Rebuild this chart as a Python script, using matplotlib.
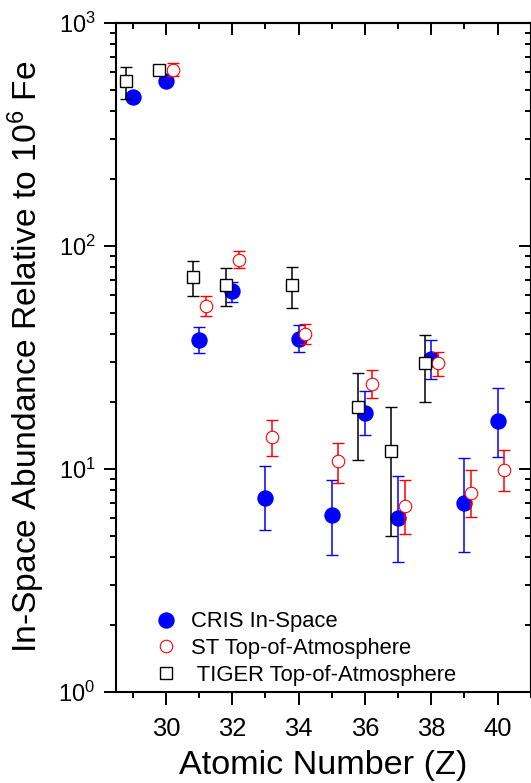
import matplotlib
matplotlib.use("Agg")
import matplotlib.pyplot as plt
from matplotlib.ticker import MultipleLocator, LogLocator, NullFormatter, FixedLocator
import numpy as np

plt.rcParams["font.family"] = ["Liberation Sans", "DejaVu Sans"]
plt.rcParams["mathtext.fontset"] = "custom"
plt.rcParams["mathtext.rm"] = "Liberation Sans"
plt.rcParams["mathtext.it"] = "Liberation Sans:italic"
plt.rcParams["mathtext.bf"] = "Liberation Sans:bold"

# CRIS in-space abundances (relative to 10^6 Fe)
cris_z = [29, 30, 31, 32, 33, 34, 35, 36, 37, 38, 39, 40]
cris_val = [462, 547, 37.9, 62.5, 7.42, 38.2, 6.17, 17.8, 6.04, 31.1, 7.02, 16.4]
cris_lo = [449, 532, 32.9, 56.2, 5.30, 33.3, 4.12, 14.1, 3.81, 25.2, 4.21, 11.3]
cris_hi = [475, 562, 43.1, 68.6, 10.25, 43.9, 8.94, 22.3, 9.27, 37.6, 11.2, 23.0]

# SuperTIGER top-of-atmosphere abundances
st_z = [30, 31, 32, 33, 34, 35, 36, 37, 38, 39, 40]
st_val = [615, 53.9, 86.4, 13.9, 40.3, 10.8, 24.1, 6.81, 29.7, 7.78, 9.84]
st_lo = [578, 48.6, 79.6, 11.45, 36.1, 8.67, 20.8, 5.12, 26.1, 6.08, 7.92]
st_hi = [658, 59.3, 94.4, 16.6, 44.7, 13.1, 27.6, 8.87, 33.4, 9.84, 12.1]

# TIGER top-of-atmosphere abundances
tiger_z = [29, 30, 31, 32, 34, 36, 37, 38]
tiger_val = [545, 615, 72.7, 66.8, 66.8, 19.0, 12.0, 29.9]
tiger_lo = [457, 590, 59.8, 53.9, 52.6, 10.98, 4.98, 20.0]
tiger_hi = [636, 640, 85.8, 79.6, 80.6, 26.8, 18.9, 39.6]

x_major = [30, 32, 34, 36, 38, 40]

fig = plt.figure(figsize=(5.31, 7.83), dpi=100)
ax = fig.add_axes([0.2190, 0.1166, 0.7805, 0.8544])


def draw_series(z, val, lo, hi, shift, color, face, marker, ms, mew, zo, label):
    z = np.asarray(z, float) + shift
    val = np.asarray(val, float)
    yerr = [val - np.asarray(lo, float), np.asarray(hi, float) - val]
    ax.errorbar(z, val, yerr=yerr, fmt="none", ecolor=color, elinewidth=1.1,
                capsize=4.2, capthick=1.0, zorder=zo)
    line, = ax.plot(z, val, linestyle="none", marker=marker, markersize=ms,
                    markerfacecolor=face, markeredgecolor=color,
                    markeredgewidth=mew, zorder=zo + 0.5, label=label)
    return line


h1 = draw_series(cris_z, cris_val, cris_lo, cris_hi, 0.0, "#0000ff", "#0000ff",
                 "o", 10.8, 1.0, 3, "CRIS In-Space")
h2 = draw_series(st_z, st_val, st_lo, st_hi, 0.2, "#ff0000", "white",
                 "o", 9.0, 0.8, 5, "ST Top-of-Atmosphere")
h3 = draw_series(tiger_z, tiger_val, tiger_lo, tiger_hi, -0.2, "black", "white",
                 "s", 8.0, 1.0, 7, " TIGER Top-of-Atmosphere")

ax.set_yscale("log")
ax.set_ylim(1, 1000)
ax.set_xlim(28.5, 41)

ax.xaxis.set_major_locator(FixedLocator(x_major))
ax.xaxis.set_minor_locator(MultipleLocator(1))
ax.yaxis.set_major_locator(LogLocator(base=10))
ax.yaxis.set_minor_locator(LogLocator(base=10, subs=np.arange(2, 10)))
ax.yaxis.set_minor_formatter(NullFormatter())

for s in ax.spines.values():
    s.set_linewidth(1.5)

ax.tick_params(which="both", direction="out", top=False, right=False, width=1.4)
ax.tick_params(which="major", length=9.0)
ax.tick_params(which="minor", length=4.5)
ax.tick_params(axis="x", labelsize=18.4, pad=9)
ax.tick_params(axis="y", labelsize=17, pad=6)

# mirrored ticks on the top and right sides, pointing inward
secx = ax.secondary_xaxis("top")
secx.xaxis.set_major_locator(FixedLocator(x_major))
secx.xaxis.set_minor_locator(MultipleLocator(1))
secx.tick_params(which="both", direction="in", labeltop=False, width=1.4)
secx.tick_params(which="major", length=8.6)
secx.tick_params(which="minor", length=4.5)
secx.spines["top"].set_linewidth(1.5)

secy = ax.secondary_yaxis("right")
secy.yaxis.set_major_locator(LogLocator(base=10))
secy.yaxis.set_minor_locator(LogLocator(base=10, subs=np.arange(2, 10)))
secy.yaxis.set_minor_formatter(NullFormatter())
secy.tick_params(which="both", direction="in", labelright=False, width=1.4)
secy.tick_params(which="major", length=8.6)
secy.tick_params(which="minor", length=4.5)
secy.spines["right"].set_linewidth(1.5)

ax.set_xlabel("Atomic Number (Z)", fontsize=24.6, labelpad=7)
ax.set_ylabel(r"In-Space Abundance Relative to $\mathregular{10^6}$ Fe",
              fontsize=24.2, labelpad=8)

ax.legend(handles=[h1, h2, h3], loc="upper left", bbox_to_anchor=(0.0925, 0.120),
          frameon=False, fontsize=15.8, handlelength=1.0, handletextpad=0.64,
          labelspacing=0.26, borderpad=0, borderaxespad=0, numpoints=1)

fig.savefig("out.png", dpi=100)
